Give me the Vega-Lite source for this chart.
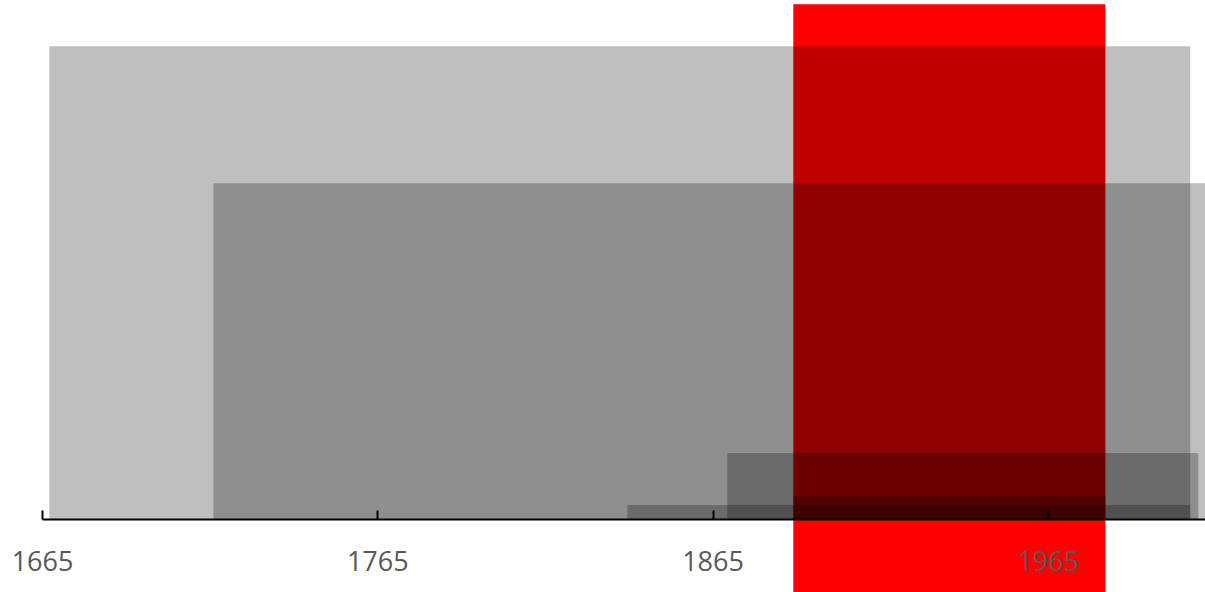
{
  "$schema": "https://vega.github.io/schema/vega-lite/v6.json",
  "autosize": {"type": "none"},
  "padding": {"left": 42, "top": 0, "right": 0, "bottom": 73},
  "width": 1163,
  "height": 519,
  "background": "white",
  "config": {"view": {"stroke": null}},
  "datasets": {
    "spans": [
      {"kind": "highlight", "start": 1889.1, "end": 1982.2, "bottom": -14.1, "top": 99.2},
      {"kind": "span", "start": 1667.2, "end": 2007.5, "bottom": 0, "top": 91.1},
      {"kind": "span", "start": 1716.1, "end": 2015, "bottom": 0, "top": 64.7},
      {"kind": "span", "start": 1869.4, "end": 2009.9, "bottom": 0, "top": 12.7},
      {"kind": "span", "start": 1839.6, "end": 2007.5, "bottom": 0, "top": 2.7},
      {"kind": "span", "start": 1889.1, "end": 1982.2, "bottom": 0, "top": 4.4}
    ]
  },
  "data": {"name": "spans"},
  "encoding": {
    "x": {
      "field": "start", "type": "quantitative",
      "scale": {"domain": [1665, 2011.9], "nice": false, "zero": false},
      "axis": {
        "title": null, "grid": false, "zindex": 1,
        "values": [1665, 1765, 1865, 1965],
        "format": "d",
        "domainColor": "#000000", "domainWidth": 2,
        "tickColor": "#000000", "tickWidth": 2, "tickSize": -9,
        "labelFont": "Open Sans", "labelFontSize": 27, "labelColor": "#595959",
        "labelPadding": 39, "labelFlush": false, "labelOverlap": false
      }
    },
    "x2": {"field": "end"},
    "y": {
      "field": "bottom", "type": "quantitative",
      "scale": {"domain": [0, 100], "nice": false, "zero": false},
      "axis": null
    },
    "y2": {"field": "top"}
  },
  "layer": [
    {
      "transform": [{"filter": "datum.kind === 'highlight'"}],
      "mark": {"type": "rect", "color": "#ff0000", "opacity": 1, "clip": false}
    },
    {
      "transform": [{"filter": "datum.kind === 'span'"}],
      "mark": {"type": "rect", "color": "#000000", "opacity": 0.25}
    }
  ]
}
